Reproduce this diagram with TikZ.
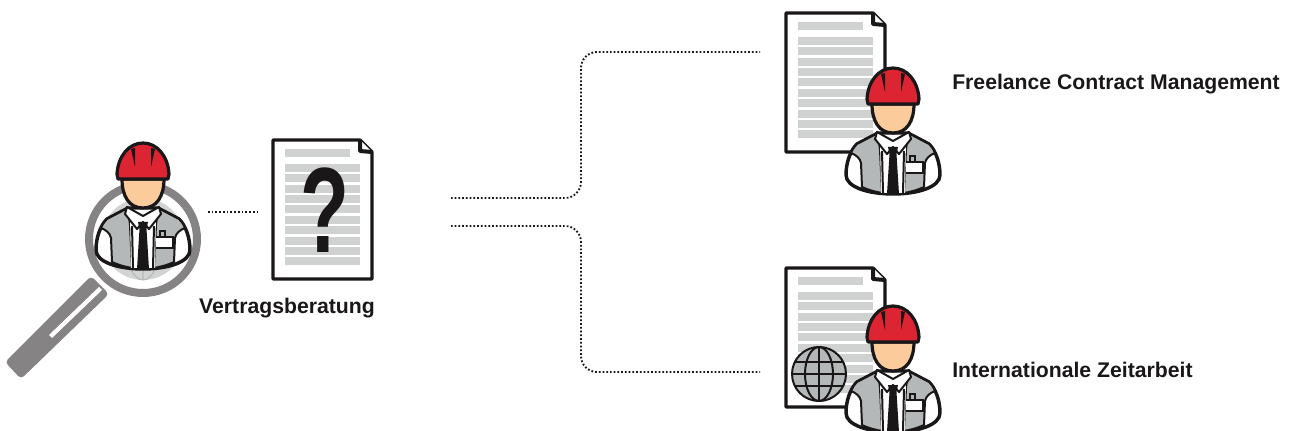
\documentclass[tikz,border=0pt]{standalone}
\usepackage{fontspec}
\setmainfont{Liberation Sans}
\definecolor{hatred}{HTML}{DC2433}
\definecolor{skin}{HTML}{FCCB9B}
\definecolor{vest}{HTML}{B4B8B9}
\definecolor{barcol}{HTML}{D0D1D1}
\definecolor{lensgray}{HTML}{858384}
\definecolor{globefill}{HTML}{D2D3D3}
\definecolor{ink}{HTML}{1A1718}
\tikzset{
    outline/.style={draw=ink, line width=2.4pt, line join=round},
    thinink/.style={draw=ink, line width=1.5pt, line join=round},
    dotline/.style={draw=ink, line width=1.4pt, dash pattern=on 1.3pt off 1.5pt, rounded corners=12pt},
    caption/.style={font=\bfseries\fontsize{15.9}{18}\selectfont, text=ink, inner sep=0pt},
    pics/worker/.style={code={
        % Body
        \draw[outline, fill=white, line width=2.6pt] (-15,30) -- (-36,41) .. controls (-43,48) and (-47,60) .. (-47,72) .. controls (-47,84) and (-25,91) .. (0,91) .. controls (25,91) and (47,84) .. (47,72) .. controls (47,60) and (43,48) .. (36,41) -- (15,30) -- cycle;
        % Vest panels
        \draw[thinink, fill=vest] (-15,30) -- (-36,41) .. controls (-39,44) and (-41,47) .. (-42,50) .. controls (-37,52) and (-33,55) .. (-32,60) -- (-31,84) .. controls (-25,87) and (-17,89) .. (-11,90) -- (-13,47) -- cycle;
        \draw[thinink, fill=vest] (15,30) -- (36,41) .. controls (39,44) and (41,47) .. (42,50) .. controls (37,52) and (33,55) .. (32,60) -- (31,84) .. controls (25,87) and (17,89) .. (11,90) -- (13,47) -- cycle;
        % Badge
        \draw[draw=ink, line width=.8pt, fill=vest] (17,53) rectangle (22,59);
        \draw[draw=ink, line width=1pt, fill=white] (12,59) rectangle (30,70);
        % Collar and tie
        \fill[white] (-13,36) -- (13,36) -- (12,90) -- (-12,90) -- cycle;
        \draw[thinink, fill=white] (-16,29) -- (-18,36) -- (-6,51) -- (0,44) -- (6,51) -- (18,36) -- (16,29) -- (0,38) -- cycle;
        \draw[thinink] (-11,48) -- (-10,90) (11,48) -- (10,90);
        \fill[ink] (-5,44) -- (5,44) -- (3.5,51) -- (6,91) -- (-6,91) -- (-3.5,51) -- cycle;
        % Face
        \draw[outline, fill=skin] (-21,1) .. controls (-21,18) and (-14,30) .. (0,30) .. controls (14,30) and (21,18) .. (21,1) -- cycle;
        % Helmet
        \draw[outline, fill=hatred] (-25,1) -- (-26,-4) .. controls (-25,-22) and (-14,-35) .. (0,-35) .. controls (14,-35) and (25,-22) .. (26,-4) -- (25,1) -- cycle;
        \fill[ink] (-12,-29) -- (-8,-30) -- (-8,-11) -- cycle;
        \fill[ink] (12,-29) -- (8,-30) -- (8,-11) -- cycle;
    }},
    pics/docpage/.style={code={
        \draw[outline, fill=white] (1,1) -- (88,1) -- (100,13) -- (100,140) -- (1,140) -- cycle;
        \draw[outline, fill=white, line width=3pt] (88,1) -- (88,12) -- (100,13);
        % Text bars
        \fill[barcol] (13,10) rectangle (78,18);
        \foreach \ypos in {25,35,46,56,66,77,87,98,108,118}
            \fill[barcol] (13,\ypos) rectangle (88,\ypos+8);
    }}
}
\begin{document}
\begin{tikzpicture}[x=0.75pt, y=-0.75pt]
    \useasboundingbox (0,0) rectangle (1290,431);

    % Magnifier
    \fill[globefill] (143,239) circle (41);
    \draw[vest, line width=.8pt] (143,198) -- (143,280) (102,239) -- (184,239) (143,239) ellipse (18 and 41);
    \draw[lensgray, line width=6pt] (143,239) circle (54);
    \fill[lensgray, rounded corners=3pt] (91,276) -- (109,294) -- (21,379) -- (5,362) -- cycle;
    \fill[white] (99,287) -- (102,290) -- (52,338) -- (49,335) -- cycle;
    \pic at (143,178) {worker};

    % Documents
    \pic at (272,139) {docpage};
    \node[font=\bfseries\fontsize{91}{91}\selectfont, text=ink, inner sep=0pt, xscale=.66] (question) at (325,210) {?};
    \pic at (785,12) {docpage};
    \pic at (785,267) {docpage};

    % Globe on lower document
    \draw[thinink, fill=vest] (819,374) circle (27);
    \draw[thinink] (819,347) -- (819,401) (792,374) -- (846,374) (795,362) -- (843,362) (795,386) -- (843,386);
    \draw[thinink] (819,374) ellipse (14 and 27);

    % Workers
    \pic at (893,103) {worker};
    \pic at (893,341) {worker};

    % Labels
    \node[caption, anchor=base west] (freelance) at (952,90) {Freelance Contract Management};
    \node[caption, anchor=base west] (zeitarbeit) at (952,378) {Internationale Zeitarbeit};
    \node[caption, anchor=base] (beratung) at (287,314) {Vertragsberatung};

    % Dotted connectors
    \coordinate (lensend) at (208,212);
    \coordinate (docend) at (258,212);
    \coordinate (upperstart) at (451,198);
    \coordinate (upperend) at (760,52);
    \coordinate (lowerstart) at (451,226);
    \coordinate (lowerend) at (760,372);
    \draw[dotline, line width=1pt] (lensend) -- (docend);
    \draw[dotline] (upperstart) -| (581,52) -- (upperend);
    \draw[dotline] (lowerstart) -| (581,372) -- (lowerend);

\end{tikzpicture}
\end{document}
